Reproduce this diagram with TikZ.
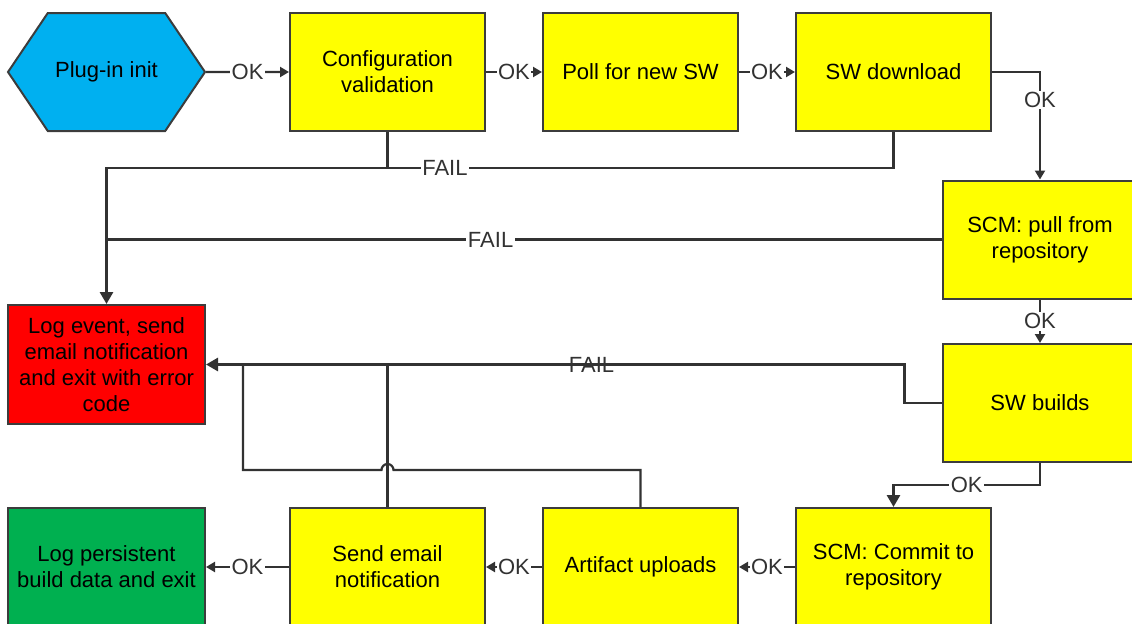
\documentclass[tikz,border=0pt]{standalone}
\usepackage{fontspec}
\setmainfont{Liberation Sans}
\usetikzlibrary{arrows.meta,shapes.symbols}

\definecolor{boxyellow}{RGB}{255,255,0}
\definecolor{initblue}{RGB}{0,176,240}
\definecolor{errred}{RGB}{255,0,0}
\definecolor{donegreen}{RGB}{0,176,80}
\definecolor{edgegray}{RGB}{60,60,60}
\definecolor{linegray}{RGB}{50,50,50}

\tikzset{
  box/.style={draw=edgegray, line width=1pt, fill=boxyellow, minimum width=97.5pt,
    minimum height=59pt, align=center, inner sep=2pt},
  line/.style={draw=linegray, line width=1.1pt},
  flow/.style={line, -{Triangle[length=4.5pt,width=5pt]}},
  bigflow/.style={line, line width=1.4pt, -{Triangle[length=6pt,width=6.5pt]}},
  lbl/.style={fill=white, inner sep=0.8pt, text=linegray}
}

\begin{document}
\begin{tikzpicture}[x=0.5pt, y=-0.5pt, font=\fontsize{11}{13}\selectfont]
  \useasboundingbox (0,0) rectangle (1132,623);

  % top row
  \node[draw=edgegray, line width=1pt, fill=initblue, signal, signal to=west and east,
    signal pointer angle=112, minimum width=98.5pt, minimum height=59pt] (init) at (106.5,72) {Plug-in init};
  \node[box] (cfg) at (387.5,72) {Configuration\\validation};
  \node[box] (poll) at (640.5,72) {Poll for new SW};
  \node[box] (dl) at (893.5,72) {SW download};

  % right column
  \node[box] (pull) at (1040,239.5) {SCM: pull from\\repository};
  \node[box] (build) at (1040,403) {SW builds};

  % bottom row
  \node[box] (commit) at (893.5,567) {SCM: Commit to\\repository};
  \node[box] (upload) at (640.5,567) {Artifact uploads};
  \node[box] (mail) at (387.5,567) {Send email\\notification};
  \node[box, fill=donegreen, minimum width=98.5pt] (done) at (106.5,567) {Log persistent\\build data and exit};

  \node[box, fill=errred, minimum width=98.5pt, minimum height=59.5pt] (err) at (106.5,364.5)
    {Log event, send\\email notification\\and exit with error\\code};

  % OK paths
  \draw[flow] (init) -- node[lbl] {OK} (cfg);
  \draw[flow] (cfg) -- node[lbl] {OK} (poll);
  \draw[flow] (poll) -- node[lbl] {OK} (dl);
  \draw[flow] (dl.east) -| node[lbl, pos=0.63] {OK} (pull.north);
  \draw[flow] (pull) -- node[lbl] {OK} (build);
  \draw[bigflow] (build.south) -- ++(0,22) -| node[lbl, pos=0.25] {OK} (commit.north);
  \draw[flow] (commit) -- node[lbl] {OK} (upload);
  \draw[flow] (upload) -- node[lbl] {OK} (mail);
  \draw[flow] (mail) -- node[lbl] {OK} (done);

  % FAIL paths
  \coordinate (jn) at ([xshift=18.5pt]err.east);
  \draw[line] (cfg.south) -- ++(0,36);
  \draw[bigflow] (dl.south) -- ++(0,36) -| node[lbl, pos=0.285] {FAIL} (err.north);
  \draw[line] (pull.west) -- node[lbl, pos=0.54] {FAIL} (pull.west -| err.north);
  \draw[bigflow] (build.west) -- ++(-37,0) |- node[pos=0.724, text=linegray] {FAIL} (err.east);
  \draw[line] (mail.north) -- (mail.north |- err.east);
  \draw[line] (upload.north) |- ([xshift=3pt,yshift=18.5pt]mail.north)
    arc[start angle=0, end angle=180, radius=3pt] -| (jn);
\end{tikzpicture}
\end{document}
